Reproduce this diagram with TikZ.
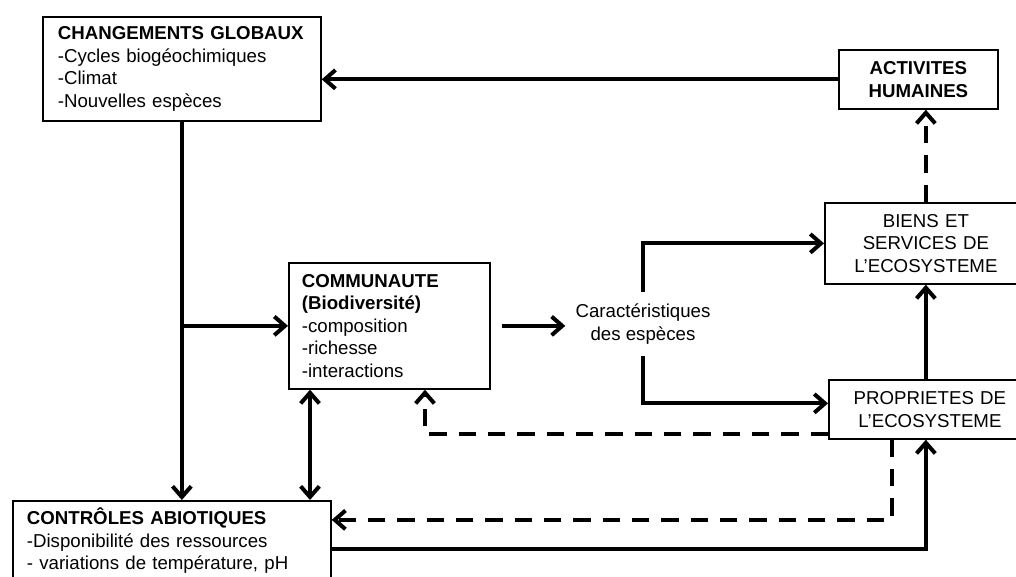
\documentclass[tikz,border=0pt]{standalone}
\usepackage{fontspec}
\setmainfont{Liberation Sans}
\usetikzlibrary{arrows.meta,calc,positioning}
\newdimen\pxu \pxu=0.75pt

\begin{document}
\begin{tikzpicture}
    [x=0.75pt,y=-0.75pt,
    font=\fontsize{14}{16.9}\selectfont,
    >={Straight Barb[length=8pt,width=14pt]},
    % Styles
    box/.style={draw,line width=1.3pt,anchor=north west,inner ysep=0pt},
    leftbox/.style={box,align=left},
    midbox/.style={box,align=center},
    flow/.style={line width=3pt,->},
    feedback/.style={flow,dash pattern=on 13pt off 9pt}]

    % Frame of the picture
    \useasboundingbox (0,0) rectangle (1016,577);
    \clip (0,0) rectangle (1016,577);

    % Boxes
    \node[leftbox, text width=248\pxu, inner xsep=15\pxu, minimum height=104\pxu] (glob) at (42,16)
      {\textbf{CHANGEMENTS GLOBAUX}\\-Cycles biogéochimiques\\-Climat\\-Nouvelles espèces};
    \node[midbox, text width=149\pxu, inner xsep=5\pxu, minimum height=59\pxu] (act) at (838,49)
      {\textbf{ACTIVITES}\\\textbf{HUMAINES}};
    \node[midbox, text width=192\pxu, inner xsep=5\pxu, minimum height=81\pxu] (biens) at (824,202)
      {BIENS ET\\SERVICES DE\\L’ECOSYSTEME};
    \node[leftbox, text width=175\pxu, inner xsep=13\pxu, minimum height=126\pxu] (comm) at (288,262)
      {\textbf{COMMUNAUTE}\\\textbf{(Biodiversité)}\\-composition\\-richesse\\-interactions};
    \node[midbox, text width=192\pxu, inner xsep=5\pxu, minimum height=59\pxu] (prop) at (828,379)
      {PROPRIETES DE\\L’ECOSYSTEME};
    \node[leftbox, text width=290\pxu, inner xsep=14\pxu, minimum height=80\pxu] (ctrl) at (12,500)
      {\textbf{CONTRÔLES ABIOTIQUES}\\-Disponibilité des ressources\\- variations de température, pH};

    % Free text
    \node[inner xsep=10\pxu, inner ysep=12\pxu, align=center] (car) at (643,324)
      {Caractéristiques\\des espèces};

    % Helper points
    \coordinate (commlink) at ($(comm.south west)+(22,0)$);
    \coordinate (commfb) at ($(comm.south west)+(137,0)$);
    \coordinate (propfb) at ($(prop.south west)+(64,0)$);

    % Solid links
    \draw[flow] (act.west) -- (act.west -| glob.east);
    \draw[flow] (glob.south) -- (glob.south |- ctrl.north);
    \draw[flow] (glob.south |- comm.west) -- (comm.west);
    \draw[flow,<->] (commlink) -- (commlink |- ctrl.north);
    \draw[flow,shorten <=11\pxu] (comm.east) -- (comm.east -| car.west);
    \draw[flow] (car.north) |- (biens.west);
    \draw[flow] (car.south) |- ($(prop.west)+(0,-6)$);
    \draw[flow] (prop.north -| biens.south) -- (biens.south);
    \draw[flow] ($(ctrl.east)+(0,8)$) -| (prop.south -| biens.south);

    % Dashed feedbacks
    \draw[feedback] (biens.north) -- (biens.north |- act.south);
    \draw[feedback] ($(prop.south west)+(0,-6)$) -| (commfb);
    \draw[feedback] (propfb) |- ($(ctrl.east)+(0,-21)$);
\end{tikzpicture}
\end{document}
